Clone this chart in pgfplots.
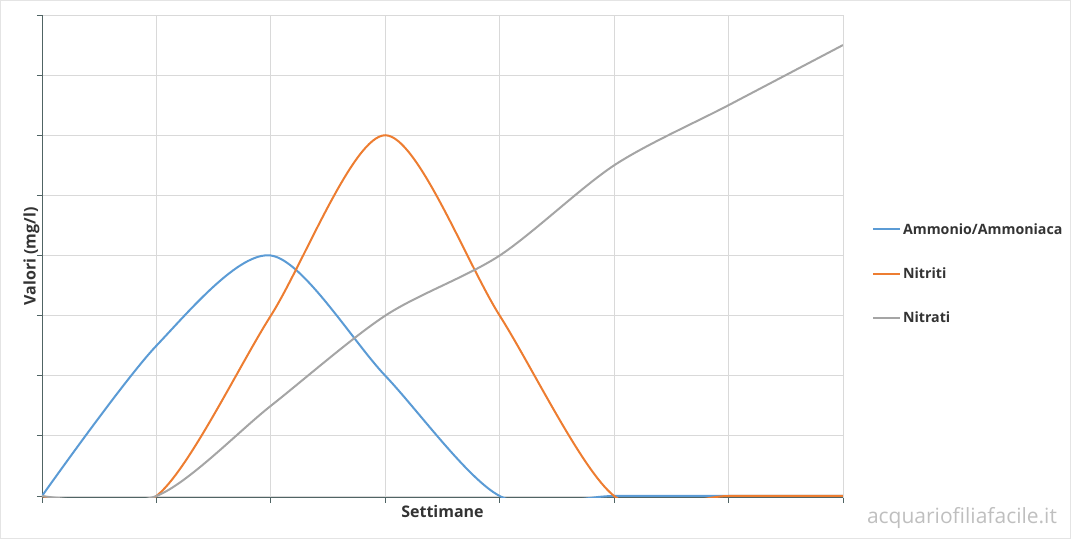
\documentclass[border=0pt]{standalone}
\usepackage{pgfplots}
\pgfplotsset{compat=1.18}
\usepackage{fontspec}
\setmainfont{Open Sans}
\definecolor{cblue}{HTML}{5B9BD5}
\definecolor{corange}{HTML}{ED7D31}
\definecolor{cgray}{HTML}{A5A5A5}
\definecolor{caxis}{RGB}{80,100,100}
\definecolor{cgrid}{HTML}{D9D9D9}
\begin{document}
\begin{tikzpicture}[x=1pt,y=1pt]
\draw[draw=cgrid!70, line width=1pt] (0.5,0.5) rectangle (1070.5,538.5);
\begin{axis}[
  at={(42pt,41.2pt)}, anchor=south west,
  scale only axis, width=801pt, height=482.8pt,
  xmin=0, xmax=7, ymin=-0.03, ymax=8,
  xtick={0,...,7}, ytick={0,...,8},
  xticklabels={}, yticklabels={},
  grid=major, major grid style={cgrid, line width=0.8pt},
  axis x line*=bottom, axis y line*=left,
  x axis line style={draw=caxis, line width=0.9pt, -},
  y axis line style={draw=caxis, line width=0.9pt, -},
  tick style={caxis, line width=0.9pt},
  xtick align=outside, ytick align=outside,
  major tick length=5pt,
  xlabel={\bfseries Settimane}, ylabel={\bfseries Valori (mg/l)},
  xlabel style={font=\fontsize{16}{18}\selectfont, color=black!80, at={(0.5,0)}, anchor=north, yshift=-4pt},
  ylabel style={font=\fontsize{16}{18}\selectfont, color=black!80, at={(0,0.5)}, anchor=south, yshift=-1pt},
  legend style={at={(1.036,0.464)}, anchor=west, draw=none, fill=none,
    font=\fontsize{14.2}{17}\selectfont\bfseries, text=black!80, row sep=28pt, inner sep=0pt,
    legend cell align=left},
  legend image code/.code={\draw[#1, line width=2pt] (0pt,0pt) -- (27pt,0pt);},
]
\addplot[cblue, line width=2pt, smooth] coordinates {(0,0) (1,2.5) (2,4) (3,2) (4,0) (5,0) (6,0) (7,0)};
\addlegendentry{Ammonio/Ammoniaca}
\addplot[corange, line width=2pt, smooth] coordinates {(0,0) (1,0) (2,3) (3,6) (4,3) (5,0) (6,0) (7,0)};
\addlegendentry{Nitriti}
\addplot[cgray, line width=2pt, smooth] coordinates {(0,0) (1,0) (2,1.5) (3,3) (4,4) (5,5.5) (6,6.5) (7,7.5)};
\addlegendentry{Nitrati}
\end{axis}
\node[anchor=base, text=black!25, font=\fontsize{21}{23}\selectfont] at (962pt,16pt) {acquariofiliafacile.it};
\end{tikzpicture}
\end{document}
